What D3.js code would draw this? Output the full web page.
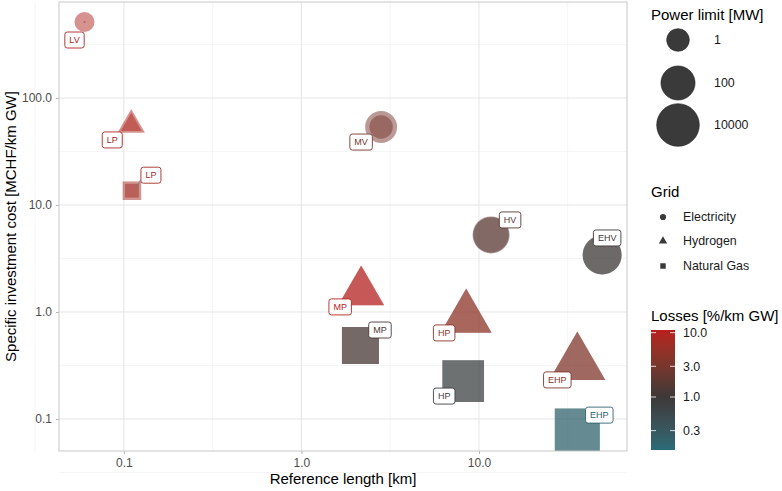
<!DOCTYPE html>
<html>
  <head>
    <meta charset="utf-8" />
    <title>Specific investment cost vs reference length</title>
    <style>
      body {
        margin: 0;
        background-color: #fff;
        font-family: "Liberation Sans", Arial, Helvetica, sans-serif;
      }
      #chart svg {
        display: block;
      }
      .tick-label {
        font-size: 12px;
        fill: #4d4d4d;
      }
      .axis-title {
        font-size: 15px;
        fill: #000;
      }
      .legend-title {
        font-size: 15px;
        fill: #000;
      }
      .legend-label {
        font-size: 12.4px;
        fill: #1a1a1a;
      }
      .point-label {
        font-size: 9px;
      }
    </style>
  </head>

  <body>
    <div id="chart"></div>

    <script src="https://cdnjs.cloudflare.com/ajax/libs/d3/7.8.5/d3.min.js"></script>
    <script>
      // data
      var levels = ["LV", "LP", "LP", "MV", "HV", "EHV", "MP", "MP", "HP", "HP", "EHP", "EHP"];
      var grids = ["Electricity", "Hydrogen", "Natural Gas", "Electricity", "Electricity", "Electricity",
                   "Hydrogen", "Natural Gas", "Hydrogen", "Natural Gas", "Hydrogen", "Natural Gas"];
      var refLength = [0.060, 0.11, 0.111, 2.81, 11.7, 49.4, 2.17, 2.15, 8.47, 8.15, 35.8, 35.8];   // km
      var invCost = [513, 56, 13.6, 53.5, 5.25, 3.41, 1.54, 0.486, 0.88, 0.226, 0.327, 0.077];     // MCHF/km GW
      var losses = [9, 9, 7, 3, 1.7, 1.0, 10, 1.2, 4.5, 0.7, 3.5, 0.2];                           // %/km GW
      var powerLow = [0.02, 0.15, 0.15, 1.3, 200, 1250, 100, 6000, 670, 160000, 5400, 2200000];  // MW
      var powerHigh = [0.46, 0.5, 0.6, 37, 430, 1250, 100, 6000, 670, 160000, 5400, 2200000];    // MW

      var gridNames = ["Electricity", "Hydrogen", "Natural Gas"];
      var xTicks = [0.1, 1, 10];
      var xTickLabels = ["0.1", "1.0", "10.0"];
      var yTicks = [0.1, 1, 10, 100];
      var yTickLabels = ["0.1", "1.0", "10.0", "100.0"];
      var sizeBreaks = [1, 100, 10000];
      var sizeBreakLabels = ["1", "100", "10000"];
      var lossBreaks = [10, 3, 1, 0.3];
      var lossBreakLabels = ["10.0", "3.0", "1.0", "0.3"];

      // ggrepel-ish label offsets (px from point centre)
      var labelNudge = [[-10, 18], [-19, 15], [19, -15.5], [-20, 15], [19, -15], [5, -17],
                        [-21, 15], [19.5, -15.5], [-22, 15], [-19, 15], [-20, 16], [22, -16]];

      var width = 782, height = 491;
      var panel = { left: 59, right: 627, top: 2, bottom: 451 };

      var svg = d3.select("#chart").append("svg")
        .attr("width", width)
        .attr("height", height);

      var x = d3.scaleLog()
        .domain([0.0431, 68.2])
        .range([panel.left, panel.right]);

      var y = d3.scaleLog()
        .domain([0.0502, 789])
        .range([panel.bottom, panel.top]);

      // power -> symbol radius (area linear in log10 power)
      var areaScale = d3.scaleLinear().domain([0, 4]).range([128, 454]);
      function radius(p) {
        return Math.sqrt(Math.max(areaScale(Math.log10(p)), 1));
      }

      var colour = d3.scaleLinear()
        .domain([Math.log10(0.15), 0, Math.log10(11)])
        .range(["#2a6b78", "#3d3838", "#b81e1e"])
        .interpolate(d3.interpolateLab)
        .clamp(true);
      function lossColour(v) { return colour(Math.log10(v)); }

      var shapeOf = {
        "Electricity": d3.symbolCircle,
        "Hydrogen": d3.symbolTriangle,
        "Natural Gas": d3.symbolSquare
      };

      // panel background grid
      var minorX = [-1.5, -0.5, 0.5, 1.5].map(function(e) { return Math.pow(10, e); });
      var minorY = [-1.5, -0.5, 0.5, 1.5, 2.5].map(function(e) { return Math.pow(10, e); });

      var gridG = svg.append("g");
      gridG.selectAll(".minor-x").data(minorX).enter().append("line")
        .attr("x1", function(d) { return x(d); }).attr("x2", function(d) { return x(d); })
        .attr("y1", panel.top).attr("y2", panel.bottom)
        .attr("stroke", "#f0f0f0").attr("stroke-width", 0.7);
      gridG.selectAll(".minor-y").data(minorY).enter().append("line")
        .attr("y1", function(d) { return y(d); }).attr("y2", function(d) { return y(d); })
        .attr("x1", panel.left).attr("x2", panel.right)
        .attr("stroke", "#f0f0f0").attr("stroke-width", 0.7);
      gridG.selectAll(".major-x").data(xTicks).enter().append("line")
        .attr("x1", function(d) { return x(d); }).attr("x2", function(d) { return x(d); })
        .attr("y1", panel.top).attr("y2", panel.bottom)
        .attr("stroke", "#e5e5e5").attr("stroke-width", 1);
      gridG.selectAll(".major-y").data(yTicks).enter().append("line")
        .attr("y1", function(d) { return y(d); }).attr("y2", function(d) { return y(d); })
        .attr("x1", panel.left).attr("x2", panel.right)
        .attr("stroke", "#e5e5e5").attr("stroke-width", 1);

      // axes
      var xAxis = d3.axisBottom(x).tickValues(xTicks)
        .tickFormat(function(d, i) { return xTickLabels[i]; })
        .tickSize(3).tickPadding(4);
      var yAxis = d3.axisLeft(y).tickValues(yTicks)
        .tickFormat(function(d, i) { return yTickLabels[i]; })
        .tickSize(3).tickPadding(4);

      var gx = svg.append("g").attr("transform", "translate(0," + panel.bottom + ")").call(xAxis);
      var gy = svg.append("g").attr("transform", "translate(" + panel.left + ",0)").call(yAxis);
      [gx, gy].forEach(function(g) {
        g.select(".domain").remove();
        g.selectAll(".tick line").attr("stroke", "#b3b3b3");
        g.selectAll(".tick text").attr("class", "tick-label").style("font-family", "inherit");
      });

      // points, clipped to panel; each is drawn twice (low / high power)
      svg.append("clipPath").attr("id", "panel-clip")
        .append("rect")
        .attr("x", panel.left).attr("y", panel.top)
        .attr("width", panel.right - panel.left).attr("height", panel.bottom - panel.top);

      var rows = levels.map(function(lv, i) {
        return { level: lv, grid: grids[i], len: refLength[i], cost: invCost[i],
                 loss: losses[i], pLow: powerLow[i], pHigh: powerHigh[i], i: i };
      });

      var pointsG = svg.append("g").attr("clip-path", "url(#panel-clip)");
      rows.forEach(function(d) {
        [d.pHigh, d.pLow].forEach(function(p) {
          var r = radius(p);
          pointsG.append("path")
            .attr("d", d3.symbol().type(shapeOf[d.grid]).size(Math.PI * r * r)())
            .attr("transform", "translate(" + x(d.len) + "," + y(d.cost) + ")")
            .attr("fill", lossColour(d.loss))
            .attr("fill-opacity", 0.5);
        });
      });

      // repel-style labels
      var labelG = svg.append("g");
      rows.forEach(function(d) {
        var px = x(d.len), py = y(d.cost);
        var lx = px + labelNudge[d.i][0], ly = py + labelNudge[d.i][1];
        var c = lossColour(d.loss);
        var g = labelG.append("g").attr("transform", "translate(" + lx + "," + ly + ")");
        var t = g.append("text")
          .attr("class", "point-label")
          .attr("text-anchor", "middle")
          .attr("dy", "0.35em")
          .attr("fill", c)
          .text(d.level);
        var w = t.node().getComputedTextLength() + 9;
        var h = 16;
        if (d.level === "LP" && d.grid === "Natural Gas") {
          g.insert("line", "text")
            .attr("x1", -w / 2).attr("y1", h / 2 - 4)
            .attr("x2", px - lx + 4).attr("y2", py - ly - 2)
            .attr("stroke", "#777").attr("stroke-width", 0.8);
        }
        g.insert("rect", "text")
          .attr("x", -w / 2).attr("y", -h / 2)
          .attr("width", w).attr("height", h)
          .attr("rx", 2.5).attr("ry", 2.5)
          .attr("fill", "#fff")
          .attr("stroke", c).attr("stroke-width", 0.9);
      });

      // panel border
      svg.append("rect")
        .attr("x", panel.left).attr("y", panel.top)
        .attr("width", panel.right - panel.left).attr("height", panel.bottom - panel.top)
        .attr("fill", "none").attr("stroke", "#c8c8c8").attr("stroke-width", 1);

      // axis titles
      svg.append("text").attr("class", "axis-title")
        .attr("x", (panel.left + panel.right) / 2).attr("y", 484)
        .attr("text-anchor", "middle")
        .text("Reference length [km]");
      svg.append("text").attr("class", "axis-title")
        .attr("transform", "translate(16," + ((panel.top + panel.bottom) / 2) + ") rotate(-90)")
        .attr("text-anchor", "middle")
        .text("Specific investment cost [MCHF/km GW]");

      // legend: power limit
      var legX = 651;
      var leg = svg.append("g");
      leg.append("text").attr("class", "legend-title").attr("x", legX).attr("y", 20).text("Power limit [MW]");
      var sizeY = [40, 83, 125];
      sizeBreaks.forEach(function(p, i) {
        leg.append("circle")
          .attr("cx", 678).attr("cy", sizeY[i]).attr("r", radius(p))
          .attr("fill", "#3a3a3a").attr("stroke", "#222").attr("stroke-width", 0.6);
        leg.append("text").attr("class", "legend-label")
          .attr("x", 714).attr("y", sizeY[i]).attr("dy", "0.35em")
          .text(sizeBreakLabels[i]);
      });

      // legend: grid
      leg.append("text").attr("class", "legend-title").attr("x", legX).attr("y", 197).text("Grid");
      var gridY = [217, 241, 266];
      gridNames.forEach(function(gname, i) {
        leg.append("path")
          .attr("d", d3.symbol().type(shapeOf[gname]).size(30)())
          .attr("transform", "translate(663," + gridY[i] + ")")
          .attr("fill", "#3a3a3a");
        leg.append("text").attr("class", "legend-label")
          .attr("x", 683).attr("y", gridY[i]).attr("dy", "0.35em")
          .text(gname);
      });

      // legend: losses colour bar
      leg.append("text").attr("class", "legend-title").attr("x", legX).attr("y", 321).text("Losses [%/km GW]");
      var barTop = 330, barBottom = 450, barW = 24;
      var lossY = d3.scaleLog().domain([0.15, 11]).range([barBottom, barTop]);
      var grad = svg.append("defs").append("linearGradient")
        .attr("id", "loss-grad")
        .attr("x1", 0).attr("y1", 1).attr("x2", 0).attr("y2", 0);
      d3.range(0, 1.0001, 0.05).forEach(function(t) {
        var v = Math.pow(10, Math.log10(0.15) + t * (Math.log10(11) - Math.log10(0.15)));
        grad.append("stop").attr("offset", t).attr("stop-color", lossColour(v));
      });
      leg.append("rect")
        .attr("x", legX).attr("y", barTop)
        .attr("width", barW).attr("height", barBottom - barTop)
        .attr("fill", "url(#loss-grad)");
      lossBreaks.forEach(function(v, i) {
        var ty = lossY(v);
        leg.append("line").attr("x1", legX).attr("x2", legX + 5).attr("y1", ty).attr("y2", ty)
          .attr("stroke", "#fff").attr("stroke-width", 0.8);
        leg.append("line").attr("x1", legX + barW - 5).attr("x2", legX + barW).attr("y1", ty).attr("y2", ty)
          .attr("stroke", "#fff").attr("stroke-width", 0.8);
        leg.append("text").attr("class", "legend-label")
          .attr("x", 683).attr("y", ty).attr("dy", "0.35em")
          .text(lossBreakLabels[i]);
      });
    </script>
  </body>
</html>
